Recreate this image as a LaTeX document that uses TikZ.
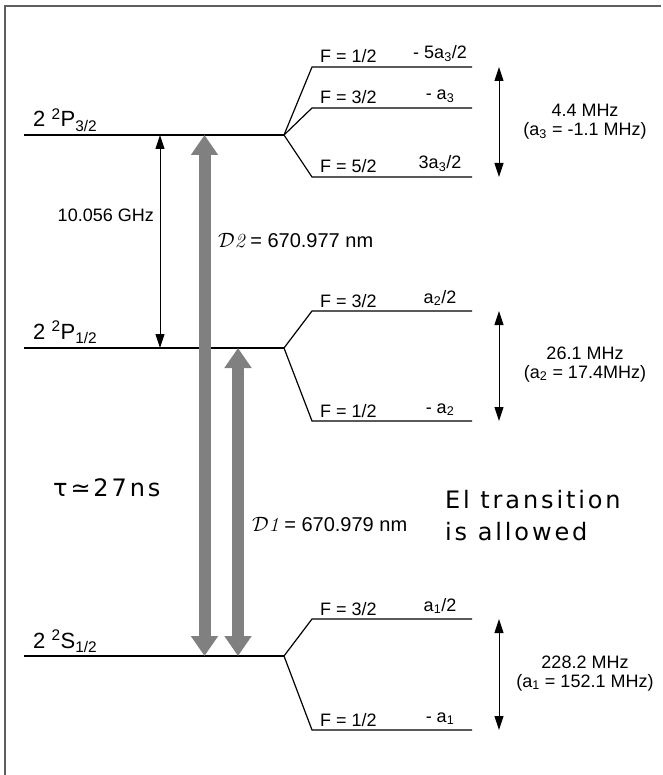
\documentclass[tikz,border=0pt]{standalone}
\usepackage{fontspec}
\setsansfont{Liberation Sans}
\newfontfamily\handfont[LetterSpace=12]{DejaVu Sans}
\usetikzlibrary{arrows.meta}
\definecolor{dgray}{RGB}{128,128,128}
\definecolor{framecol}{RGB}{95,95,95}
\begin{document}
\begin{tikzpicture}[x=1pt,y=-1pt,
  lvl/.style={line width=1.2pt,draw=black},
  dbl/.style={line width=1pt,draw=black,{Triangle[length=14pt,width=9pt]}-{Triangle[length=14pt,width=9pt]}},
  thick arrow/.style={line width=12pt,draw=dgray,{Triangle[length=20pt,width=26pt]}-{Triangle[length=20pt,width=26pt]}},
  mainlab/.style={font=\sffamily\fontsize{22}{26}\selectfont,anchor=base west,inner sep=0pt},
  flab/.style={font=\sffamily\fontsize{18}{21}\selectfont,anchor=base west,inner sep=0pt},
  vlab/.style={font=\sffamily\fontsize{18}{21}\selectfont,anchor=base,inner sep=0pt},
  mhz/.style={font=\sffamily\fontsize{18}{21}\selectfont,anchor=base,inner sep=0pt},
  biglab/.style={font=\sffamily\fontsize{18}{21}\selectfont,inner sep=0pt},
  dlab/.style={font=\sffamily\fontsize{20}{24}\selectfont,inner sep=0pt,anchor=base west},
  hand/.style={font=\handfont\fontsize{24}{28}\selectfont,anchor=base west,inner sep=0pt}]
\useasboundingbox (0,0) rectangle (662,775);
% frame
\draw[line width=2pt,framecol] (661,6) -- (5,6) -- (5,776);

% ---- 2 2P3/2 ----
\coordinate (p3l) at (24,135);
\coordinate (p3r) at (284,135);
\coordinate (p3a) at (312,67);  \coordinate (p3ae) at (472,67);
\coordinate (p3b) at (312,108); \coordinate (p3be) at (472,108);
\coordinate (p3c) at (312,177); \coordinate (p3ce) at (472,177);
\draw[lvl] (p3l) -- (p3r);
\draw[lvl] (p3r) -- (p3a) -- (p3ae);
\draw[lvl] (p3r) -- (p3b) -- (p3be);
\draw[lvl] (p3r) -- (p3c) -- (p3ce);

% ---- 2 2P1/2 ----
\coordinate (p1l) at (24,348);
\coordinate (p1r) at (284,348);
\coordinate (p1a) at (312,311); \coordinate (p1ae) at (472,311);
\coordinate (p1b) at (312,421); \coordinate (p1be) at (472,421);
\draw[lvl] (p1l) -- (p1r);
\draw[lvl] (p1r) -- (p1a) -- (p1ae);
\draw[lvl] (p1r) -- (p1b) -- (p1be);

% ---- 2 2S1/2 ----
\coordinate (sl) at (24,656);
\coordinate (sr) at (284,656);
\coordinate (sa) at (312,619); \coordinate (sae) at (472,619);
\coordinate (sb) at (312,730); \coordinate (sbe) at (472,730);
\draw[lvl] (sl) -- (sr);
\draw[lvl] (sr) -- (sa) -- (sae);
\draw[lvl] (sr) -- (sb) -- (sbe);

% ---- level labels ----
\node[mainlab] (lp3) at (33,127) {2 \textsuperscript{2}P\textsubscript{3/2}};
\node[mainlab] (lp1) at (33,339) {2 \textsuperscript{2}P\textsubscript{1/2}};
\node[mainlab] (ls)  at (33,648) {2 \textsuperscript{2}S\textsubscript{1/2}};

% ---- F labels ----
\node[flab] (f3a) at (320,63)  {F = 1/2};
\node[flab] (f3b) at (320,104) {F = 3/2};
\node[flab] (f3c) at (320,173) {F = 5/2};
\node[flab] (f1a) at (320,307) {F = 3/2};
\node[flab] (f1b) at (320,417) {F = 1/2};
\node[flab] (fsa) at (320,615) {F = 3/2};
\node[flab] (fsb) at (320,726) {F = 1/2};

% ---- values ----
\node[vlab] (v3a) at (440,59)  {- 5a\textsubscript{3}/2};
\node[vlab] (v3b) at (440,100) {- a\textsubscript{3}};
\node[vlab] (v3c) at (440,169) {3a\textsubscript{3}/2};
\node[vlab] (v1a) at (440,303) {a\textsubscript{2}/2};
\node[vlab] (v1b) at (440,413) {- a\textsubscript{2}};
\node[vlab] (vsa) at (440,611) {a\textsubscript{1}/2};
\node[vlab] (vsb) at (440,722) {- a\textsubscript{1}};

% ---- right double arrows ----
\coordinate (r3t) at (499,67);  \coordinate (r3b) at (499,177);
\coordinate (r1t) at (499,311); \coordinate (r1b) at (499,421);
\coordinate (rst) at (499,619); \coordinate (rsb) at (499,730);
\draw[dbl] (r3t) -- (r3b);
\draw[dbl] (r1t) -- (r1b);
\draw[dbl] (rst) -- (rsb);
\node[mhz] (m3a) at (585,117) {4.4 MHz};
\node[mhz] (m3b) at (585,136) {(a\textsubscript{3} = -1.1 MHz)};
\node[mhz] (m1a) at (585,359) {26.1 MHz};
\node[mhz] (m1b) at (585,378) {(a\textsubscript{2} = 17.4MHz)};
\node[mhz] (msa) at (585,668) {228.2 MHz};
\node[mhz] (msb) at (585,687) {(a\textsubscript{1} = 152.1 MHz)};

% ---- fine structure arrow ----
\coordinate (fst) at (160,135); \coordinate (fsb) at (160,348);
\draw[dbl] (fst) -- (fsb);
\node[biglab,anchor=base east] (ghz) at (154,222) {10.056 GHz};

% ---- D lines ----
\coordinate (d2t) at (204.5,135); \coordinate (d2b) at (204.5,656);
\coordinate (d1t) at (238,348);   \coordinate (d1b) at (238,656);
\draw[thick arrow] (d2t) -- (d2b);
\draw[thick arrow] (d1t) -- (d1b);
\node[dlab] (d2lab) at (218,248) {$\mathcal{D}\mathit{2}$ = 670.977 nm};
\node[dlab] (d1lab) at (252,531) {$\mathcal{D}\mathit{1}$ = 670.979 nm};

% ---- handwritten notes ----
\node[hand] (tau) at (53,496) {τ≃27ns};
\node[hand] (e1a) at (445,508) {El transition};
\node[hand] (e1b) at (445,540) {is allowed};
\end{tikzpicture}
\end{document}
